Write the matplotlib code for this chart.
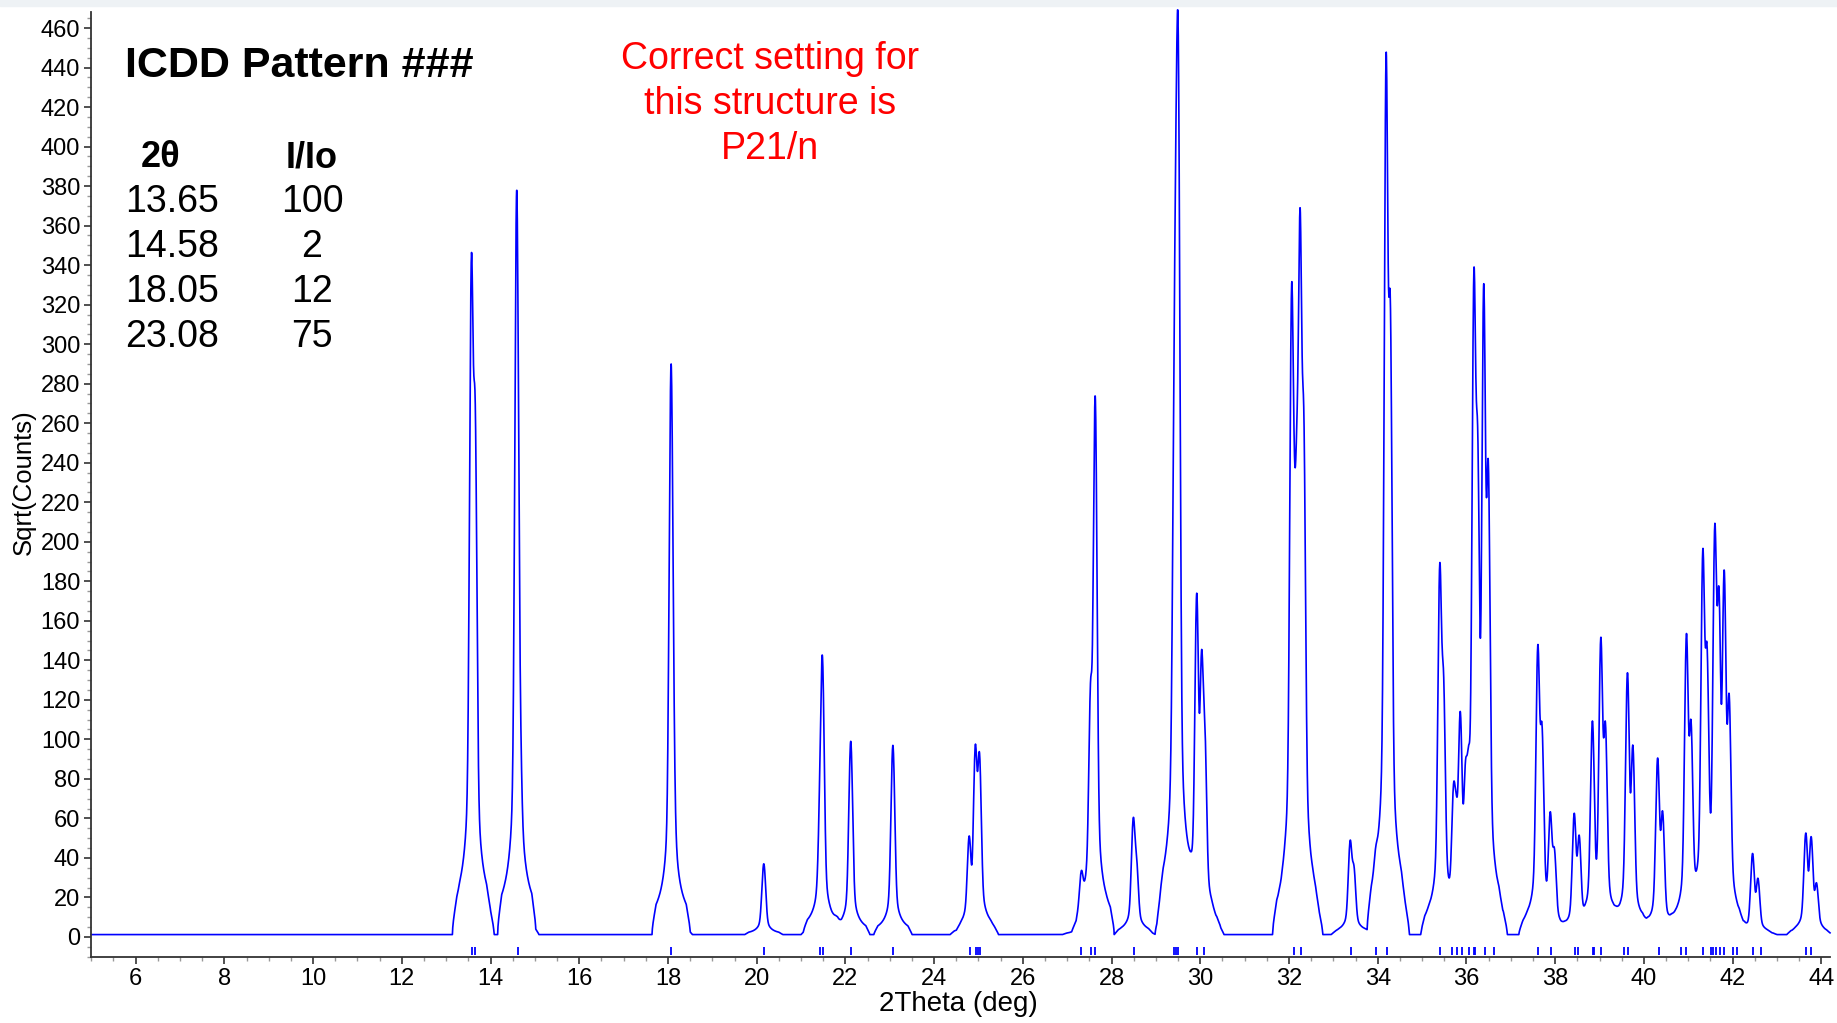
import numpy as np
import matplotlib.pyplot as plt
from matplotlib.patches import Rectangle
from matplotlib.ticker import MultipleLocator

plt.rcParams['font.family'] = ['Liberation Sans', 'DejaVu Sans']

# peaks: 2theta position and top height in sqrt(counts)
peak_pos = [13.57, 13.65, 14.59, 14.66, 18.07, 18.12, 20.16, 21.43, 21.48, 22.12,
            23.07, 24.79, 24.93, 25.02, 27.32, 27.53, 27.63, 28.49, 28.56, 29.41,
            29.45, 29.50, 29.92, 30.03, 30.10, 32.06, 32.12, 32.18, 32.25, 32.33,
            33.38, 33.46, 33.96, 34.19, 34.28, 35.40, 35.48, 35.71, 35.77, 35.86,
            35.98, 36.05, 36.17, 36.25, 36.39, 36.49, 37.61, 37.70, 37.89, 37.98,
            38.43, 38.54, 38.84, 39.03, 39.13, 39.63, 39.75, 40.31, 40.42, 40.96,
            41.06, 41.33, 41.42, 41.60, 41.69, 41.81, 41.92, 42.45, 42.57, 43.65,
            43.77, 43.89]
peak_h = [338, 258, 377, 80, 288, 60, 37, 55, 139, 99,
          97, 49, 95, 91, 27, 120, 273, 59, 36, 200,
          295, 428, 172, 138, 97, 318, 165, 210, 352, 248,
          48, 34, 22, 442, 310, 186, 125, 70, 57, 110,
          75, 72, 330, 238, 325, 232, 146, 103, 61, 42,
          62, 50, 108, 150, 105, 133, 95, 90, 62, 152,
          105, 193, 140, 204, 168, 182, 118, 42, 29, 52,
          50, 26]

# reflection markers under the baseline
refl_pos = [13.58, 13.66, 14.62, 18.07, 20.16, 21.43, 21.49, 22.12, 23.07, 24.81,
            24.94, 24.98, 25.04, 27.32, 27.53, 27.63, 28.51, 29.41, 29.45, 29.50,
            29.92, 30.08, 32.11, 32.27, 33.39, 33.96, 34.22, 35.40, 35.67, 35.79,
            35.91, 36.05, 36.17, 36.20, 36.42, 36.61, 37.61, 37.91, 38.45, 38.52,
            38.85, 38.88, 39.03, 39.55, 39.65, 40.34, 40.84, 40.95, 41.33, 41.51,
            41.56, 41.62, 41.72, 41.81, 42.01, 42.11, 42.47, 42.64, 43.65, 43.77]

table_2theta = ["13.65", "14.58", "18.05", "23.08"]
table_int = ["100", "2", "12", "75"]

# build the calculated pattern from the peak list (pseudo-Voigt, tapered cut-off)
tt = np.arange(5.0, 44.2, 0.004)
inten = np.zeros_like(tt)
for p, h in zip(peak_pos, peak_h):
    d = tt - p
    g = np.exp(-np.log(2) * (d / 0.038) ** 2)
    l = 1.0 / (1.0 + (d / 0.05) ** 2)
    prof = 0.85 * g + 0.15 * l
    prof *= np.clip((0.43 - np.abs(d)) / 0.09, 0, 1)
    inten += h ** 2 * prof
counts = np.sqrt(inten + 1.2 ** 2)

W, H = 1837, 1023
fig = plt.figure(figsize=(W / 100, H / 100), dpi=100)
fig.patches.append(Rectangle((0, 1 - 6 / H), 1, 6 / H, transform=fig.transFigure,
                             color='#EEF2F5', zorder=0))

ax = fig.add_axes([91.3 / W, 1 - 957.3 / H, (1830.2 - 91.3) / W, (957.3 - 12.2) / H])
ax.plot(tt, counts, color='#0000FF', lw=1.2, clip_on=False)
ax.vlines(refl_pos, -9, -5, color='#0000FF', lw=1.3)

ax.set_xlim(5, 44.2)
ax.set_ylim(-10.3, 468)
ax.set_xticks(range(6, 45, 2))
ax.set_yticks(range(0, 461, 20))
ax.xaxis.set_minor_locator(MultipleLocator(0.5))
ax.yaxis.set_minor_locator(MultipleLocator(5))
ax.tick_params(which='major', direction='out', length=5, width=1.2, color='#333333',
               labelsize=17, pad=3)
ax.tick_params(which='minor', direction='out', length=3, width=1, color='#999999')
for s in ['top', 'right']:
    ax.spines[s].set_visible(False)
for s in ['left', 'bottom']:
    ax.spines[s].set_color('#333333')
    ax.spines[s].set_linewidth(1.3)

fig.text(23.4 / W, 1 - 482 / H, "Sqrt(Counts)", rotation=90, ha='center', va='center',
         fontsize=18.5)
fig.text(958 / W, 1 - 1004 / H, "2Theta (deg)", ha='center', va='center', fontsize=20)

fig.text(125 / W, 1 - 77 / H, "ICDD Pattern ###", fontsize=31, fontweight='bold',
         va='baseline', ha='left')
fig.text(161 / W, 1 - 167 / H, "2θ", fontsize=26, fontweight='bold', va='baseline',
         ha='center')
fig.text(312 / W, 1 - 167 / H, "I/Io", fontsize=26, fontweight='bold', va='baseline',
         ha='center')
for i, (a, b) in enumerate(zip(table_2theta, table_int)):
    yb = 212 + i * 45
    fig.text(125 / W, 1 - yb / H, a, fontsize=27, va='baseline', ha='left')
    fig.text(312 / W, 1 - yb / H, b, fontsize=27, va='baseline', ha='center')

fig.text(770 / W, 1 - 104 / H, "Correct setting for\nthis structure is\nP21/n",
         color='#FF0000', fontsize=27, ha='center', va='center', linespacing=1.33,
         multialignment='center')

fig.savefig("out.png", dpi=100)
